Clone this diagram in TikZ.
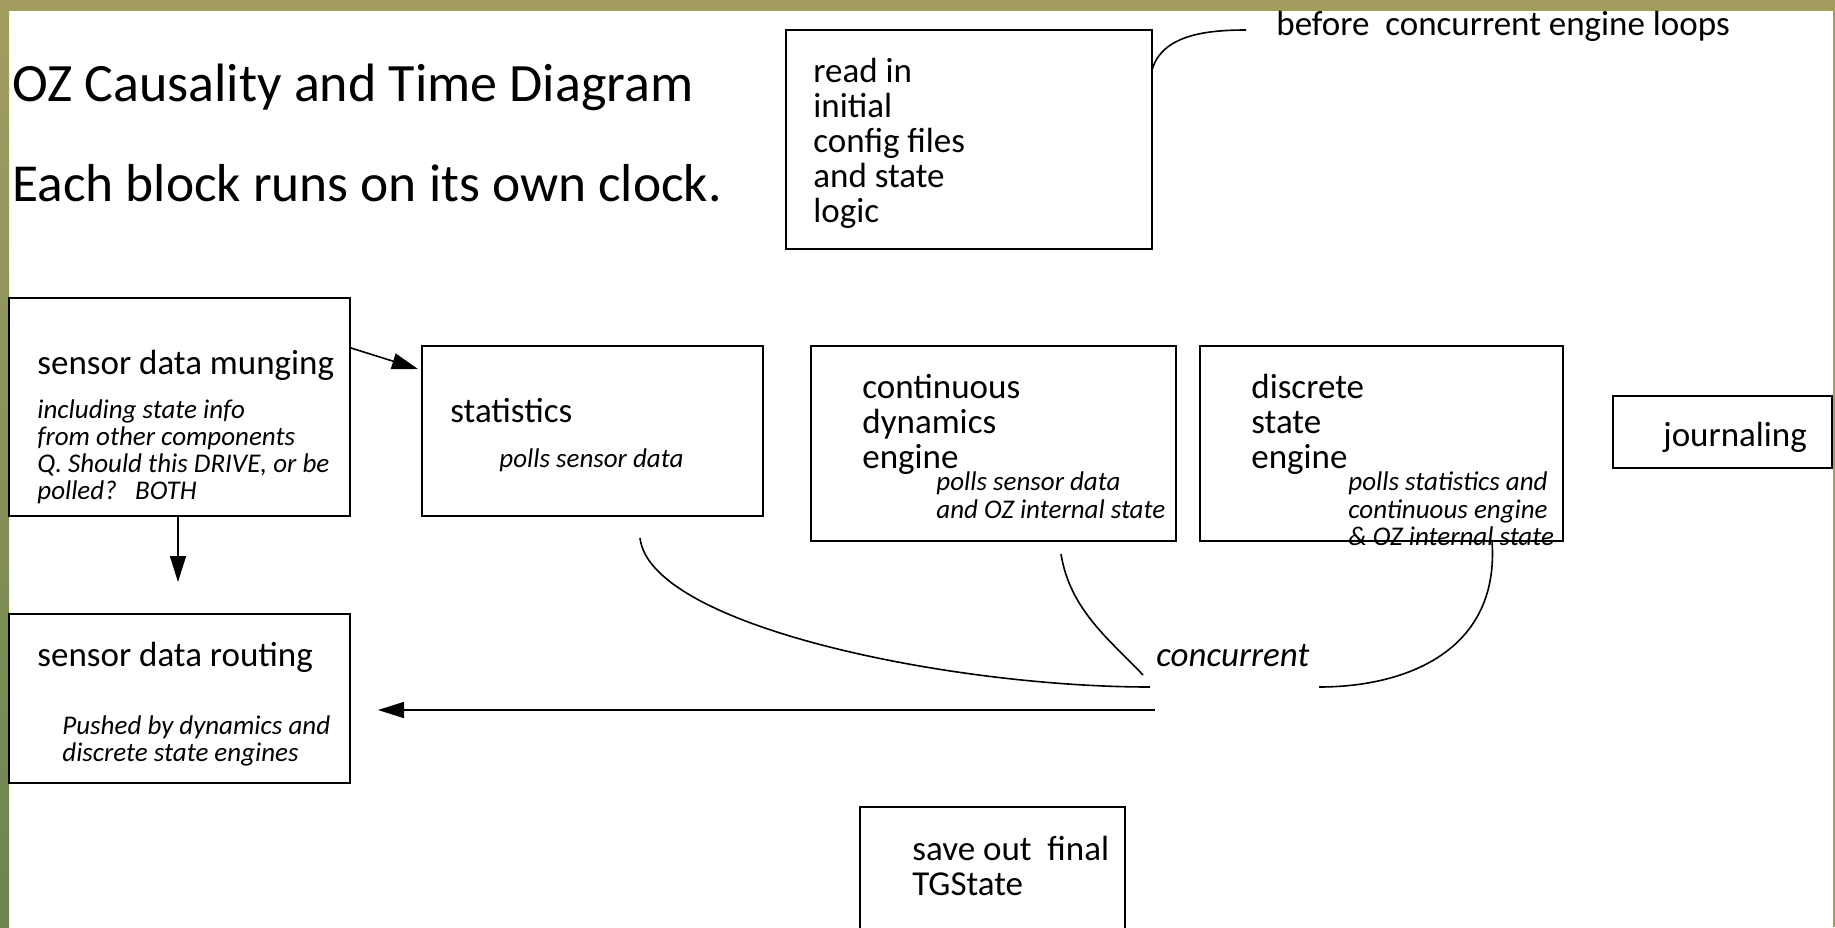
\documentclass[tikz,border=0pt]{standalone}
\usepackage{fontspec}
\setmainfont{Carlito}
\usetikzlibrary{arrows.meta,calc}
\definecolor{olivetop}{RGB}{163,158,96}
\definecolor{olivebot}{RGB}{108,132,80}
\begin{document}
\begin{tikzpicture}[x=0.5pt,y=-0.5pt,
  box/.style={draw, line width=1pt, inner sep=0pt, outer sep=0pt, anchor=north west},
  big/.style={font=\fontsize{27}{32}\selectfont, inner sep=0pt, anchor=base west},
  txt/.style={font=\fontsize{17.5}{17.5}\selectfont, inner sep=0pt, anchor=base west},
  sm/.style={font=\fontsize{13.5}{13.5}\selectfont\itshape, inner sep=0pt, anchor=base west},
  wire/.style={line width=0.8pt},
  arr/.style={wire, -{Triangle[length=13pt,width=8pt]}}]
\useasboundingbox (0,0) rectangle (1835,927);
\clip (0,0) rectangle (1835,927);
\fill[white] (0,0) rectangle (1835,927);
% frame bands
\fill[olivetop] (0,0) rectangle (1835,11);
\shade[top color=olivetop, bottom color=olivebot] (0,0) rectangle (9,927);
\fill[olivetop] (1833,0) rectangle (1835,927);

% titles
\node[big] (title) at (12,101) {OZ Causality and Time Diagram};
\node[big, font=\fontsize{26.7}{32}\selectfont] (sub) at (12,201) {Each block runs on its own clock.};
\node[txt] (before) at (1276,35) {before\ \ concurrent engine loops};

% boxes
\node[box, minimum width=183pt, minimum height=109.5pt] (readin) at (786,30) {};
\node[box, minimum width=170.5pt, minimum height=109pt] (mung) at (9,298) {};
\node[box, minimum width=170.5pt, minimum height=85pt] (stat) at (422,346) {};
\node[box, minimum width=182.5pt, minimum height=97.5pt] (cont) at (811,346) {};
\node[box, minimum width=181.5pt, minimum height=97.5pt] (disc) at (1200,346) {};
\node[box, minimum width=109.5pt, minimum height=36pt] (journ) at (1613,396) {};
\node[box, minimum width=170.5pt, minimum height=84.5pt] (rout) at (9,614) {};
\node[box, minimum width=132.5pt, minimum height=70pt] (save) at (860,807) {};

% read in
\node[txt] (ri1) at (813,82) {read in};
\node[txt] (ri2) at (813,117) {initial};
\node[txt] (ri3) at (813,152) {config files};
\node[txt] (ri4) at (813,187) {and state};
\node[txt] (ri5) at (813,222) {logic};

% munging
\node[txt] (mu0) at (37,374) {sensor data munging};
\node[sm] (mu1) at (37,418) {including state info};
\node[sm] (mu2) at (37,445) {from other components};
\node[sm] (mu3) at (37,472) {Q. Should this DRIVE, or be};
\node[sm] (mu4) at (37,499) {polled?\ \ \ BOTH};

% statistics
\node[txt] (st0) at (450,422) {statistics};
\node[sm] (st1) at (499,467) {polls sensor data};

% continuous
\node[txt] (co1) at (862,398) {continuous};
\node[txt] (co2) at (862,433) {dynamics};
\node[txt] (co3) at (862,468) {engine};
\node[sm] (co4) at (936,490) {polls sensor data};
\node[sm] (co5) at (936,518) {and OZ internal state};

% discrete
\node[txt] (di1) at (1251,398) {discrete};
\node[txt] (di2) at (1251,433) {state};
\node[txt] (di3) at (1251,468) {engine};
\node[sm] (di4) at (1348,490) {polls statistics and};
\node[sm] (di5) at (1348,518) {continuous engine};
\node[sm] (di6) at (1348,545) {\& OZ internal state};

% journaling
\node[txt] (jo) at (1663,446) {journaling};

% routing
\node[txt] (ro0) at (37,666) {sensor data routing};
\node[sm] (ro1) at (62,734) {Pushed by dynamics and};
\node[sm] (ro2) at (62,761) {discrete state engines};

% save
\node[txt] (sa1) at (912,860) {save out\ \ final};
\node[txt] (sa2) at (912,895) {TGState};

% concurrent
\node[txt, font=\fontsize{17.5}{17.5}\selectfont\itshape] (conc) at (1156,666) {concurrent};

% connectors
\draw[arr] ($(mung.north east)+(1,50)$) -- ($(stat.north west)+(-4,23)$);
\draw[arr] ($(mung.south west)+(169,0)$) -- ($(rout.north west)+(169,-32)$);
\draw[arr] ($(conc.base west)+(-1,44)$) -- ($(rout.north east)+(28,96)$);
\draw[wire] ($(stat.south west)+(218,22)$) .. controls ($(stat.south west)+(228,110)$) and ($(conc.base west)+(-206,21)$) .. ($(conc.base west)+(-6,21)$);
\draw[wire] ($(cont.south west)+(250,13)$) .. controls ($(cont.south west)+(259,69)$) and ($(conc.base west)+(-46,-26)$) .. ($(conc.base west)+(-13,9)$);
\draw[wire] ($(disc.south west)+(292,0)$) .. controls ($(disc.south west)+(300,110)$) and ($(conc.base west)+(250,21)$) .. ($(conc.base west)+(163,21)$);
\draw[wire] ($(readin.north east)+(0,40)$) .. controls ($(readin.north east)+(10,5)$) and ($(before.base west)+(-70,-5)$) .. ($(before.base west)+(-30,-5)$);
\end{tikzpicture}
\end{document}
